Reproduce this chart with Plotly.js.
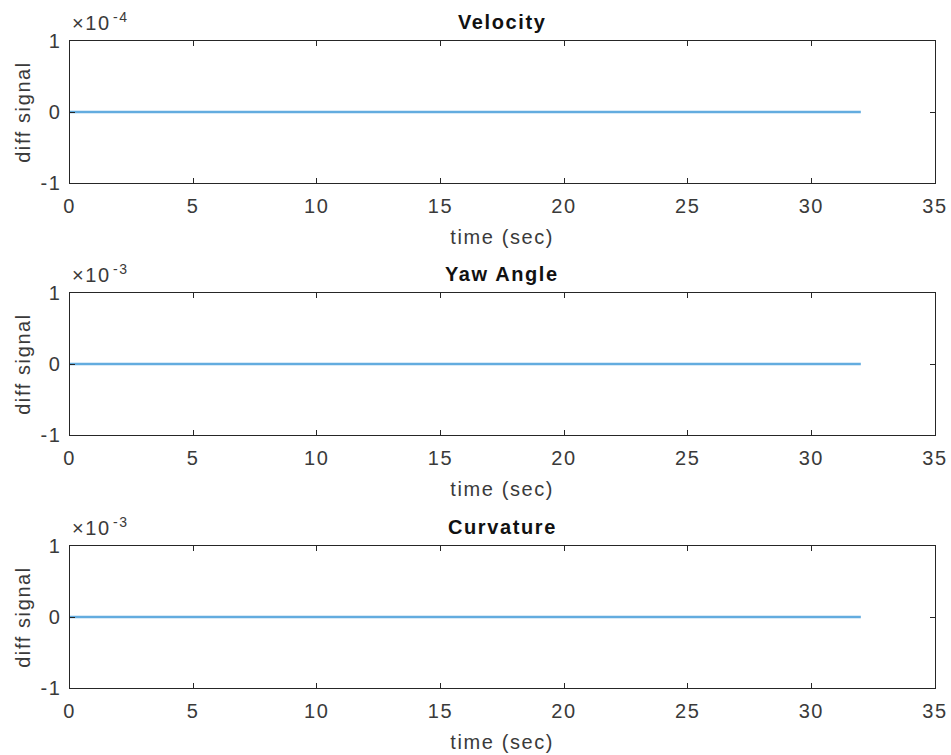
<!DOCTYPE html>
<html><head><meta charset="utf-8">
<script src="https://cdn.plot.ly/plotly-3.0.1.min.js"></script>
<style>html,body{margin:0;padding:0;background:#fff}#chart{width:951px;height:755px}
svg text{letter-spacing:1.6px}</style>
</head><body><div id="chart"></div>
<script>
const time = [0, 4, 8, 12, 16, 20, 24, 28, 32];
const velocityDiff = [0, 0, 0, 0, 0, 0, 0, 0, 0];   // x 1e-4
const yawAngleDiff = [0, 0, 0, 0, 0, 0, 0, 0, 0];   // x 1e-3
const curvatureDiff = [0, 0, 0, 0, 0, 0, 0, 0, 0];  // x 1e-3
const titles = ['Velocity', 'Yaw Angle', 'Curvature'];
const exponents = ['-4', '-3', '-3'];
const xTicks = [0, 5, 10, 15, 20, 25, 30, 35];
const yTicks = [-1, 0, 1];
const yTickText = ['-1', '0', '1'];

const W = 951, H = 755;
const xl = 69.5 / W, xr = 935 / W;
const boxes = [[41, 183], [293, 435], [546, 688]];
const series = [velocityDiff, yawAngleDiff, curvatureDiff];
const axColor = '#262626';
const fam = 'Liberation Sans, Arial, sans-serif';
const tickFont = {family: fam, size: 20, color: '#3a3a3a'};
const labFont = {family: fam, size: 20, color: '#3a3a3a'};
const titleFont = {family: fam, size: 20, color: '#111111', weight: 700};
const expFont = {family: fam, size: 14, color: '#3a3a3a'};

const data = [];
const layout = {
  width: W, height: H, margin: {l: 0, r: 0, t: 0, b: 0},
  paper_bgcolor: '#fff', plot_bgcolor: '#fff', showlegend: false,
  font: tickFont, annotations: []
};
series.forEach((s, i) => {
  const n = i === 0 ? '' : String(i + 1);
  data.push({x: time, y: s, type: 'scatter', mode: 'lines',
    xaxis: 'x' + n, yaxis: 'y' + n,
    line: {color: '#63acdf', width: 2.5}, hoverinfo: 'skip'});
  const [t, b] = boxes[i];
  layout['xaxis' + n] = {
    domain: [xl, xr], anchor: 'y' + n, range: [0, 35],
    tickvals: xTicks, ticks: 'inside', ticklen: 5, tickcolor: axColor, tickwidth: 1,
    showline: true, linecolor: axColor, linewidth: 1, mirror: 'ticks',
    showgrid: false, zeroline: false, tickfont: tickFont, ticklabelstandoff: 5,
    title: {text: 'time (sec)', font: labFont, standoff: 13}
  };
  layout['yaxis' + n] = {
    domain: [1 - b / H, 1 - t / H], anchor: 'x' + n, range: [-1, 1],
    tickvals: yTicks, ticktext: yTickText, ticks: 'inside', ticklen: 5, tickcolor: axColor, tickwidth: 1,
    showline: true, linecolor: axColor, linewidth: 1, mirror: 'ticks',
    showgrid: false, zeroline: false, tickfont: tickFont, ticklabelstandoff: 3,
    title: {text: 'diff signal', font: labFont, standoff: 4}
  };
  layout.annotations.push({
    text: titles[i], xref: 'paper', yref: 'paper',
    x: (xl + xr) / 2, y: 1 - (t - 6) / H, xanchor: 'center', yanchor: 'bottom',
    showarrow: false, font: titleFont
  });
  layout.annotations.push({
    text: '×10', xref: 'paper', yref: 'paper',
    x: 70 / W, y: 1 - (t - 5) / H, xanchor: 'left', yanchor: 'bottom',
    showarrow: false, font: tickFont
  });
  layout.annotations.push({
    text: exponents[i], xref: 'paper', yref: 'paper',
    x: 111 / W, y: 1 - (t - 14) / H, xanchor: 'left', yanchor: 'bottom',
    showarrow: false, font: expFont
  });
});
Plotly.newPlot('chart', data, layout, {displayModeBar: false, staticPlot: true});
</script></body></html>
